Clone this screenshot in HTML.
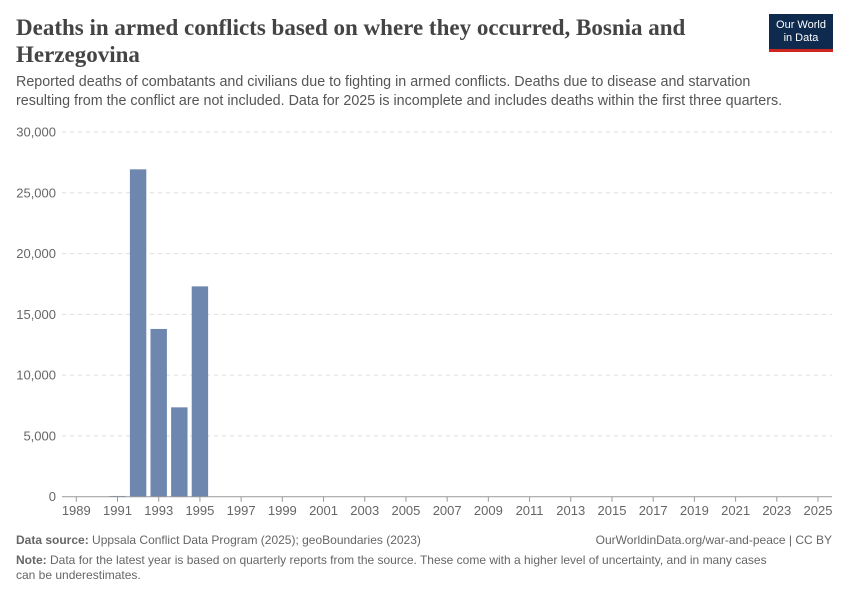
<!DOCTYPE html>
<html><head><meta charset="utf-8"><style>
body{margin:0;background:#fff;font-family:"Liberation Sans",sans-serif;}
#wrap{position:relative;width:850px;height:600px;overflow:hidden;}
.t{position:absolute;}
</style></head><body>
<div id="wrap">
<div class="t" style="left:16px;top:14px;width:700px;font-family:'Liberation Serif',serif;font-size:23px;font-weight:bold;color:#444;line-height:27px;">Deaths in armed conflicts based on where they occurred, Bosnia and Herzegovina</div>
<div class="t" style="left:769px;top:14px;width:64px;height:38px;background:#0e2a4e;border-bottom:3px solid #ce261e;color:#fff;font-size:11px;text-align:center;line-height:13px;padding-top:5px;box-sizing:border-box;">Our World<br>in Data</div>
<div class="t" style="left:16px;top:73px;white-space:nowrap;font-size:14.3px;color:#555;line-height:19px;">Reported deaths of combatants and civilians due to fighting in armed conflicts. Deaths due to disease and starvation<br>resulting from the conflict are not included. Data for 2025 is incomplete and includes deaths within the first three quarters.</div>
<svg class="t" style="left:0;top:0" width="850" height="600" id="chart"></svg>
<div class="t" style="left:16px;top:533px;font-size:12px;color:#666;"><b>Data source:</b> Uppsala Conflict Data Program (2025); geoBoundaries (2023)</div>
<div class="t" style="right:18px;top:533px;font-size:12px;color:#666;">OurWorldinData.org/war-and-peace | CC BY</div>
<div class="t" style="left:16px;top:553px;width:770px;font-size:12px;color:#666;line-height:15px;"><b>Note:</b> Data for the latest year is based on quarterly reports from the source. These come with a higher level of uncertainty, and in many cases can be underestimates.</div>
</div>
<script>
const years=[1991,1992,1993,1994,1995];
const deaths=[60,26930,13800,7350,17300];
const yTicks=[0,5000,10000,15000,20000,25000,30000];
const xTicks=[1989,1991,1993,1995,1997,1999,2001,2003,2005,2007,2009,2011,2013,2015,2017,2019,2021,2023,2025];
const NS="http://www.w3.org/2000/svg";
const svg=document.getElementById('chart');
const x=v=>76.3+(v-1989)*(818-76.3)/36;
const y=v=>496.7-v*(496.7-132)/30000;
function mk(tag,a){const e=document.createElementNS(NS,tag);for(const k in a)e.setAttribute(k,a[k]);svg.appendChild(e);return e;}
yTicks.forEach(v=>{
 if(v>0){const l=mk('line',{x1:62,x2:832,y1:y(v),y2:y(v),stroke:'#ddd','stroke-dasharray':'4,4'});
 
 }
 const t=mk('text',{x:56,y:y(v)+4.5,'text-anchor':'end','font-size':13,fill:'#666','font-family':'Liberation Sans, sans-serif'});
 t.textContent=v.toLocaleString('en-US');
 
 
});
years.forEach((yr,i)=>{
 const r=mk('rect',{x:x(yr)-8.2,y:y(deaths[i]),width:16.4,height:y(0)-y(deaths[i]),fill:'#6d87ae'});
 
 
});
const ax=mk('line',{x1:62,x2:832,y1:496.7,y2:496.7,stroke:'#999'});


xTicks.forEach(v=>{
 const tk=mk('line',{x1:x(v),x2:x(v),y1:496.7,y2:501.7,stroke:'#999'});
 
 
 const t=mk('text',{x:x(v),y:515,'text-anchor':'middle','font-size':13,fill:'#666','font-family':'Liberation Sans, sans-serif'});
 t.textContent=v;
 
 
});
</script>
</body></html>
